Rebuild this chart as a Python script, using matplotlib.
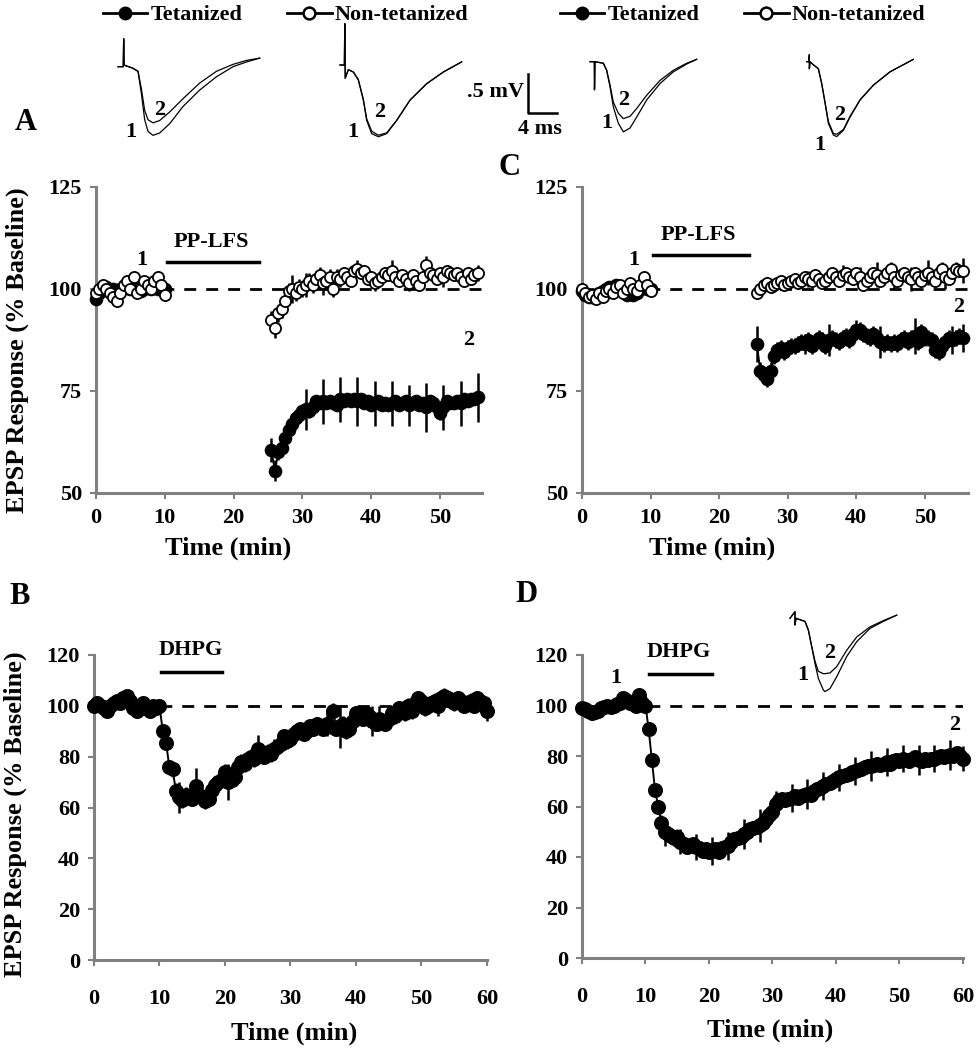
"""EPSP time courses after PP-LFS and DHPG, with example traces."""

import matplotlib

matplotlib.use("Agg")
import matplotlib.pyplot as plt
import numpy as np
from matplotlib.lines import Line2D

plt.rcParams["font.family"] = ["Liberation Serif", "DejaVu Serif"]
plt.rcParams["font.weight"] = "bold"
plt.rcParams["font.size"] = 16

W, H = 979, 1050
GRAY = "#808080"

# time bases (min)
t_base = np.arange(0, 10.01, 0.5)
t_post = np.arange(25.5, 55.51, 0.5)
t_full = np.arange(0, 60.01, 0.5)

# ---------------- panel A (% baseline)
a_tet_base = [97.5, 99, 100, 100.5, 99.5, 100, 99, 100, 100.5, 101, 100,
              101, 100, 99.5, 100, 100.5, 100, 101, 100, 100.5, 100]
a_tet_base_err = [1.5, 1.0, 1.0, 1.2, 1.0, 1.0, 1.2, 1.0, 1.0, 1.2, 1.0,
                  1.0, 1.2, 1.0, 1.0, 1.2, 1.0, 1.0, 1.2, 1.0, 1.0]
a_non_base = [99, 100, 101, 100, 99, 98, 97, 99, 101, 102, 100,
              103, 99, 100, 102, 101, 100, 102, 103, 101, 98.5]
a_non_base_err = [1.5, 1.5, 1.2, 1.5, 1.5, 1.2, 1.5, 1.5, 1.2, 1.5, 1.5,
                  1.2, 1.5, 1.5, 1.2, 1.5, 1.5, 1.2, 1.5, 1.5, 1.5]
a_tet_post = [60.5, 55.5, 60, 61, 63.5, 65.5, 67, 68.5, 69, 70,
              70.5, 70, 71, 72.5, 72, 72.5, 72, 72.5, 72, 71.5,
              73, 72.5, 73, 72.5, 73, 72.5, 73, 72, 72.5, 71.5,
              72, 72.5, 71.5, 72, 71.5, 72, 72.5, 71.5, 72, 72.5,
              71.5, 72, 72.5, 71.5, 72, 71, 72.5, 72, 71, 69.5,
              71, 72.5, 72, 72, 72.5, 72, 73, 72.5, 73, 73,
              73.5]
a_tet_post_err = [3.0, 2.5, 2.0, 2.0, 1.5, 1.5, 1.5, 1.5, 1.5, 1.5,
                  5.0, 1.5, 1.5, 1.5, 1.5, 5.5, 1.5, 1.5, 1.5, 1.5,
                  5.5, 1.5, 1.5, 1.5, 1.5, 6.0, 1.5, 1.5, 1.5, 1.5,
                  5.5, 1.5, 1.5, 1.5, 1.5, 5.5, 1.5, 1.5, 1.5, 1.5,
                  5.0, 1.5, 1.5, 1.5, 1.5, 6.0, 1.5, 1.5, 1.5, 1.5,
                  5.5, 1.5, 1.5, 1.5, 1.5, 5.5, 1.5, 1.5, 1.5, 1.5,
                  6.0]
a_non_post = [92.5, 90.5, 94, 95, 97, 99.5, 100, 99, 100.5, 100,
              101, 102, 101, 102.5, 103.5, 101.5, 102, 103, 100, 103,
              102.5, 104, 103, 102, 104.5, 105, 104, 104.5, 102.5, 103,
              101.5, 102, 103, 104, 103.5, 104.5, 103, 102, 103.5, 102.5,
              101.5, 103.5, 102, 101, 103, 106, 104, 103.5, 102.5, 104,
              103, 104.5, 104, 103.5, 104, 103, 102, 104, 102.5, 103.5,
              104]
a_non_post_err = [2.0, 2.5, 2.0, 2.0, 2.0, 2.0, 3.5, 2.0, 2.0, 2.0,
                  3.0, 2.0, 2.0, 2.0, 2.0, 3.0, 2.0, 2.0, 2.0, 2.0,
                  2.0, 1.5, 1.5, 1.5, 1.5, 2.0, 1.5, 1.5, 1.5, 1.5,
                  2.0, 1.5, 1.5, 1.5, 1.5, 2.5, 1.5, 1.5, 1.5, 1.5,
                  2.0, 1.5, 1.5, 1.5, 1.5, 2.0, 1.5, 1.5, 1.5, 1.5,
                  2.5, 1.5, 1.5, 1.5, 1.5, 2.0, 1.5, 1.5, 1.5, 1.5,
                  2.0]

# ---------------- panel C (% baseline)
c_tet_base = [99.5, 98.5, 98, 98, 98.5, 99, 99.5, 100, 100.5, 100, 101,
              100, 99.5, 98.5, 99, 98.5, 99, 100, 100.5, 100, 100]
c_tet_base_err = [1.0, 1.0, 1.2, 1.0, 1.0, 1.2, 1.0, 1.0, 1.2, 1.0, 1.0,
                  1.2, 1.0, 1.0, 1.2, 1.0, 1.0, 1.2, 1.0, 1.0, 1.0]
c_non_base = [100, 99, 98, 98.5, 97.5, 99, 98, 99.5, 100, 99, 100.5,
              101, 99, 100, 101.5, 100, 99.5, 101, 103, 101, 99.5]
c_non_base_err = [1.2, 1.2, 1.0, 1.2, 1.2, 1.0, 1.2, 1.2, 1.0, 1.2, 1.2,
                  1.0, 1.2, 1.2, 1.0, 1.2, 1.2, 1.0, 1.2, 1.2, 1.2]
c_tet_post = [86.5, 80, 79, 78, 80, 83.5, 85, 85.5, 84.5, 85.5,
              86, 86, 86.5, 87, 86.5, 87.5, 86, 87, 88, 87.5,
              86, 87.5, 88, 87.5, 87, 88, 88.5, 87.5, 89, 90,
              90, 89, 88.5, 88, 89, 88, 87, 86.5, 87, 86.5,
              87, 86.5, 87.5, 88, 87, 88, 88.5, 87, 89.5, 88,
              88, 87.5, 85, 84.5, 86, 87, 88, 87.5, 88, 88.5,
              88]
c_tet_post_err = [4.5, 2.0, 2.0, 2.0, 2.0, 2.0, 2.0, 2.0, 2.0, 2.0,
                  2.0, 2.0, 2.0, 2.0, 2.5, 2.0, 2.0, 2.0, 2.0, 2.0,
                  2.0, 4.0, 2.0, 2.0, 2.0, 2.0, 2.0, 2.0, 2.0, 2.5,
                  2.0, 2.0, 2.0, 2.0, 2.0, 2.0, 4.0, 2.0, 2.0, 2.0,
                  2.0, 2.0, 2.0, 2.0, 2.0, 2.0, 4.5, 2.0, 2.0, 2.0,
                  2.0, 2.0, 2.0, 2.0, 2.0, 2.0, 2.0, 3.5, 2.0, 2.0,
                  3.5]
c_non_post = [99, 100, 101, 101.5, 100.5, 101, 101.5, 102, 101, 101.5,
              102, 102.5, 101.5, 102, 103, 102.5, 102, 103.5, 102.5, 101.5,
              102, 103, 104, 103, 102, 103.5, 104, 103, 102.5, 104,
              103, 101, 102, 103, 104, 103.5, 102, 103, 104, 105,
              103, 102, 103.5, 104, 103, 102.5, 104, 103, 102, 103.5,
              104, 103, 102, 104, 105, 103, 102.5, 104, 105, 104.5,
              104.5]
c_non_post_err = [1.5, 1.5, 1.5, 1.5, 1.5, 1.5, 1.5, 1.5, 1.5, 1.5,
                  1.5, 1.5, 1.5, 1.5, 1.5, 2.0, 1.5, 1.5, 1.5, 1.5,
                  2.0, 1.5, 1.5, 1.5, 1.5, 2.5, 1.5, 1.5, 1.5, 1.5,
                  2.5, 1.5, 1.5, 1.5, 1.5, 3.0, 1.5, 1.5, 1.5, 1.5,
                  3.0, 1.5, 1.5, 1.5, 1.5, 3.0, 1.5, 1.5, 1.5, 1.5,
                  3.0, 1.5, 1.5, 1.5, 1.5, 3.0, 1.5, 1.5, 1.5, 1.5,
                  3.0]

# ---------------- panel B (% baseline)
b_vals = [100, 101, 100, 99, 98, 100, 101, 102, 101, 103, 104,
          102, 99, 98, 100, 101, 99, 98, 100, 99, 100,
          90, 85.5, 76, 75, 66.5, 64, 63, 65, 64, 63.5,
          68.5, 65, 64, 62.5, 63.5, 67, 69, 70, 71, 74,
          70, 71, 72, 76, 78, 77, 79, 80, 79, 83,
          81, 80, 82, 81, 83, 84, 85, 88, 86, 87,
          89, 90, 91, 89, 90, 92, 91, 93, 92, 91,
          93, 92, 98, 91, 92, 93, 90, 91, 94, 97,
          96, 95, 97, 96, 94, 93, 95, 94, 93, 95,
          97, 96, 99, 98, 97, 100, 98, 101, 103, 102,
          99, 100, 101, 102, 100, 103, 104, 103, 102, 101,
          103, 102, 100, 101, 102, 100, 103, 102, 101, 98]
b_err = [2, 2, 2, 2, 2, 2, 2, 2, 2, 2, 2,
         2, 2, 2, 2, 2, 2, 2, 2, 2, 2,
         2, 2, 2, 3, 3, 6, 3, 3, 3, 3,
         7, 3, 3, 3, 3, 3, 3, 3, 3, 3,
         7, 3, 3, 3, 3, 3, 3, 3, 3, 5.5,
         3, 3, 3, 3, 4, 3, 3, 3, 3, 3,
         2.5, 2.5, 2.5, 2.5, 2.5, 2.5, 2.5, 2.5, 2.5, 2.5,
         5, 3, 3, 3, 8.5, 3, 3, 3, 3, 3,
         3, 3, 3, 3, 6, 3, 5, 3, 3, 3,
         3, 3, 3, 3, 3, 3, 3, 3, 3, 3,
         3, 3, 3, 3, 4, 3, 3, 3, 3, 3,
         3, 3, 3, 3, 3, 3, 3, 3, 3, 4]

# ---------------- panel D (% baseline)
d_vals = [99, 98.5, 98, 97, 97.5, 98, 99, 99.5, 100, 99.5, 100,
          100.5, 101, 103, 102, 101, 100.5, 100, 104, 101, 100,
          90.5, 78.5, 66.5, 60, 53.5, 50, 49, 48.5, 47.5, 48,
          46, 45, 44, 44.5, 45, 44, 43.5, 42.5, 43, 42,
          42.5, 43, 42, 43.5, 44, 44.5, 46, 47, 47.5, 48,
          49, 50, 51, 51.5, 52, 52.5, 53.5, 55, 56.5, 58,
          61, 62.5, 63, 62.5, 63, 63.5, 64, 63.5, 64, 64.5,
          65, 64.5, 66, 67, 67.5, 68, 69, 69.5, 70, 71,
          71.5, 72, 72.5, 73, 73.5, 74, 74.5, 75, 75.5, 76,
          76, 76.5, 77, 76.5, 77, 77.5, 77, 78, 78.5, 78,
          79, 78.5, 78, 79, 79.5, 78.5, 78, 79, 78.5, 79,
          79, 79.5, 80, 79.5, 80, 80.5, 80, 81, 80, 79]
d_err = [1.5, 1.5, 1.5, 1.5, 1.5, 1.5, 1.5, 1.5, 1.5, 1.5, 1.5,
         1.5, 1.5, 1.5, 1.5, 1.5, 1.5, 1.5, 1.5, 1.5, 1.5,
         2, 2, 2, 2, 3, 5.5, 3, 3, 3, 3,
         5, 2.5, 2.5, 2.5, 2.5, 5, 2.5, 2.5, 2.5, 2.5,
         5.5, 2.5, 2.5, 2.5, 2.5, 5.5, 2.5, 2.5, 2.5, 2.5,
         6, 2.5, 2.5, 2.5, 2.5, 6.5, 2.5, 2.5, 2.5, 2.5,
         5, 2.5, 2.5, 2.5, 2.5, 5.5, 2.5, 2.5, 2.5, 2.5,
         6, 2.5, 2.5, 2.5, 2.5, 5.5, 2.5, 2.5, 2.5, 2.5,
         5.5, 2.5, 2.5, 2.5, 2.5, 5.5, 2.5, 2.5, 2.5, 2.5,
         6, 2.5, 2.5, 2.5, 2.5, 5.5, 2.5, 2.5, 2.5, 2.5,
         5.5, 2.5, 2.5, 2.5, 2.5, 6, 2.5, 2.5, 2.5, 2.5,
         5.5, 2.5, 2.5, 2.5, 2.5, 6, 2.5, 2.5, 2.5, 5]

# ---------------- example EPSP traces (ms, mV from baseline)
tr_a_t = [0, 0.72, 0.78, 0.85, 2.07, 2.76, 3.22, 3.68, 4.14, 4.83, 5.75,
          7.13, 8.97, 11.26, 13.56, 15.86, 17.70, 19.54]
tr_a_1 = [0, 0, 0.36, 0.02, -0.02, -0.06, -0.34, -0.68, -0.83, -0.88, -0.85,
          -0.73, -0.51, -0.30, -0.13, 0.0, 0.06, 0.11]
tr_a_2 = [0, 0, 0.36, 0.02, -0.02, -0.06, -0.28, -0.56, -0.68, -0.72, -0.69,
          -0.58, -0.41, -0.21, -0.06, 0.03, 0.08, 0.11]
tr_b_t = [0, 0.6, 0.66, 0.72, 1.15, 1.84, 2.53, 3.22, 3.68, 4.37, 5.29,
          6.44, 7.82, 9.66, 11.95, 14.25, 16.78]
tr_b_1 = [0, 0, 0.53, -0.17, -0.06, -0.09, -0.19, -0.45, -0.71, -0.88, -0.92,
          -0.88, -0.71, -0.45, -0.24, -0.09, 0.04]
tr_b_2 = [0, 0, 0.53, -0.17, -0.06, -0.09, -0.19, -0.44, -0.69, -0.85, -0.90,
          -0.87, -0.71, -0.45, -0.24, -0.09, 0.04]
tr_c_t = [0, 0.6, 0.62, 0.69, 1.84, 2.30, 2.76, 3.22, 3.91, 4.60, 5.52,
          6.44, 7.82, 9.66, 11.49, 13.33, 14.71]
tr_c_1 = [0, 0, -0.36, 0, -0.02, -0.11, -0.32, -0.58, -0.79, -0.90, -0.85,
          -0.71, -0.49, -0.28, -0.13, -0.03, 0.03]
tr_c_2 = [0, 0, -0.36, 0, -0.02, -0.11, -0.30, -0.52, -0.66, -0.73, -0.70,
          -0.60, -0.43, -0.24, -0.11, -0.02, 0.03]
tr_d_t = [0, 0.28, 0.37, 0.37, 0.46, 0.92, 1.61, 2.07, 2.53, 2.99, 3.68,
          4.14, 5.06, 5.98, 7.36, 9.20, 11.49, 14.71]
tr_d_1 = [0, 0, 0.09, -0.09, 0, -0.04, -0.09, -0.28, -0.53, -0.79, -0.94,
          -0.96, -0.88, -0.71, -0.49, -0.30, -0.13, 0.03]
tr_d_2 = [0, 0, 0.09, -0.09, 0, -0.04, -0.09, -0.28, -0.52, -0.77, -0.92,
          -0.93, -0.87, -0.70, -0.49, -0.30, -0.13, 0.03]
tr_e_t = [0, 0.69, 0.69, 0.83, 2.07, 2.53, 2.99, 3.45, 3.91, 4.60, 4.83,
          5.52, 6.44, 7.82, 9.20, 11.03, 12.87, 14.71]
tr_e_1 = [0, 0.085, -0.085, 0, -0.04, -0.15, -0.36, -0.58, -0.77, -0.92, -0.94,
          -0.90, -0.75, -0.49, -0.30, -0.13, -0.04, 0.04]
tr_e_2 = [0, 0.085, -0.085, 0, -0.04, -0.15, -0.36, -0.55, -0.68, -0.71, -0.71,
          -0.70, -0.62, -0.41, -0.24, -0.11, -0.03, 0.04]

PX_MS, PX_MV = 7.25, 78.0


def px_axes(fig, left, top, right, bottom):
    return fig.add_axes([left / W, 1 - bottom / H, (right - left) / W, (bottom - top) / H])


def style_axes(ax, xpad):
    for side in ("top", "right"):
        ax.spines[side].set_visible(False)
    for side in ("left", "bottom"):
        ax.spines[side].set_color(GRAY)
        ax.spines[side].set_linewidth(2.2)
    ax.tick_params(direction="out", color=GRAY, width=1.5, length=4, labelcolor="k", labelsize=16)
    ax.tick_params(axis="y", pad=6)
    ax.tick_params(axis="x", pad=xpad)
    ax.axhline(100, color="k", lw=2, linestyle=(0, (4.3, 3.6)), zorder=1)


def series(ax, t, v, err, filled, ms):
    cont = ax.errorbar(t, v, yerr=err, fmt="-o", color="k", lw=1.4, ms=ms,
                       mfc="k" if filled else "w", mec="k", mew=1.3,
                       ecolor="k", elinewidth=1.8, capsize=0, zorder=3 if filled else 4)
    for art in cont.get_children():
        art.set_clip_on(False)


def trace_axes(fig, x0, y0, ms_lo, ms_hi, mv_lo, mv_hi):
    ax = px_axes(fig, x0 + ms_lo * PX_MS, y0 - mv_hi * PX_MV, x0 + ms_hi * PX_MS, y0 - mv_lo * PX_MV)
    ax.set_xlim(ms_lo, ms_hi)
    ax.set_ylim(mv_lo, mv_hi)
    ax.axis("off")
    return ax


def draw_trace(fig, x0, y0, t, v1, v2, lab1, lab2):
    ax = trace_axes(fig, x0, y0, -0.5, 21, -1.2, 0.7)
    ax.plot(t, v1, color="k", lw=0.9)
    ax.plot(t, v2, color="k", lw=0.9)
    ax.text(*lab1, "1", ha="center", va="center", fontsize=16)
    ax.text(*lab2, "2", ha="center", va="center", fontsize=16)
    return ax


fig = plt.figure(figsize=(W / 100, H / 100), dpi=100)

# ---- panel A
ax_a = px_axes(fig, 96, 187, 482, 493)
style_axes(ax_a, 7)
ax_a.set_xlim(0, 56.1)
ax_a.set_ylim(50, 125)
ax_a.set_yticks([50, 75, 100, 125])
ax_a.set_xticks([0, 10, 20, 30, 40, 50])
series(ax_a, t_base, a_tet_base, a_tet_base_err, True, 8.5)
series(ax_a, t_post, a_tet_post, a_tet_post_err, True, 8.5)
series(ax_a, t_base, a_non_base, a_non_base_err, False, 8)
series(ax_a, t_post, a_non_post, a_non_post_err, False, 8)
ax_a.plot([10.3, 23.7], [106.6, 106.6], color="k", lw=2.5, clip_on=False)
ax_a.text(16.8, 111.5, "PP-LFS", ha="center", va="center", fontsize=16)
ax_a.text(6.7, 107.1, "1", ha="center", va="center", fontsize=16)
ax_a.text(54.1, 87.5, "2", ha="center", va="center", fontsize=16)
ax_a.set_xlabel("Time (min)", fontsize=19, fontweight="bold", va="center")
ax_a.xaxis.set_label_coords(0.342, -0.18)
ax_a.set_ylabel("EPSP Response (% Baseline)", fontsize=19, fontweight="bold", va="center")
ax_a.yaxis.set_label_coords(-0.205, 0.467)

# ---- panel C
ax_c = px_axes(fig, 582, 187, 968, 493)
style_axes(ax_c, 7)
ax_c.set_xlim(0, 56.3)
ax_c.set_ylim(50, 125)
ax_c.set_yticks([50, 75, 100, 125])
ax_c.set_xticks([0, 10, 20, 30, 40, 50])
series(ax_c, t_base, c_tet_base, c_tet_base_err, True, 8.5)
series(ax_c, t_post, c_tet_post, c_tet_post_err, True, 8.5)
series(ax_c, t_base, c_non_base, c_non_base_err, False, 8)
series(ax_c, t_post, c_non_post, c_non_post_err, False, 8)
ax_c.plot([10.3, 24.4], [108.3, 108.3], color="k", lw=2.5, clip_on=False)
ax_c.text(17.0, 113.2, "PP-LFS", ha="center", va="center", fontsize=16)
ax_c.text(7.5, 107.1, "1", ha="center", va="center", fontsize=16)
ax_c.text(54.9, 95.7, "2", ha="center", va="center", fontsize=16)
ax_c.set_xlabel("Time (min)", fontsize=19, fontweight="bold", va="center")
ax_c.xaxis.set_label_coords(0.337, -0.18)

# ---- panel B
ax_b = px_axes(fig, 94, 655, 487, 960)
style_axes(ax_b, 17)
ax_b.set_xlim(0, 60)
ax_b.set_ylim(0, 120)
ax_b.set_yticks(range(0, 121, 20))
ax_b.set_xticks(range(0, 61, 10))
series(ax_b, t_full, b_vals, b_err, True, 9.5)
ax_b.plot([10.2, 19.6], [113.4, 113.4], color="k", lw=2.5, clip_on=False)
ax_b.text(14.7, 122, "DHPG", ha="center", va="center", fontsize=16)
ax_b.set_xlabel("Time (min)", fontsize=19, fontweight="bold", va="center")
ax_b.xaxis.set_label_coords(0.509, -0.239)
ax_b.set_ylabel("EPSP Response (% Baseline)", fontsize=19, fontweight="bold", va="center")
ax_b.yaxis.set_label_coords(-0.201, 0.479)

# ---- panel D
ax_d = px_axes(fig, 582, 655, 963, 958)
style_axes(ax_d, 17)
ax_d.set_xlim(0, 60)
ax_d.set_ylim(0, 120)
ax_d.set_yticks(range(0, 121, 20))
ax_d.set_xticks(range(0, 61, 10))
series(ax_d, t_full, d_vals, d_err, True, 9.5)
ax_d.plot([10.6, 20.4], [112.5, 112.5], color="k", lw=2.5, clip_on=False)
ax_d.text(15.2, 121.3, "DHPG", ha="center", va="center", fontsize=16)
ax_d.text(5.4, 110.8, "1", ha="center", va="center", fontsize=16)
ax_d.text(58.7, 92.3, "2", ha="center", va="center", fontsize=16)
ax_d.set_xlabel("Time (min)", fontsize=19, fontweight="bold", va="center")
ax_d.xaxis.set_label_coords(0.493, -0.238)

# ---- example traces
draw_trace(fig, 118, 66.7, tr_a_t, tr_a_1, tr_a_2, (1.8, -0.84), (5.8, -0.56))
draw_trace(fig, 340, 65, tr_b_t, tr_b_1, tr_b_2, (1.8, -0.86), (5.5, -0.60))
draw_trace(fig, 590, 61.7, tr_c_t, tr_c_1, tr_c_2, (2.3, -0.79), (4.6, -0.49))
draw_trace(fig, 806.7, 61.7, tr_d_t, tr_d_1, tr_d_2, (1.8, -1.07), (4.6, -0.68))
draw_trace(fig, 790, 618.3, tr_e_t, tr_e_1, tr_e_2, (1.8, -0.73), (5.5, -0.44))

# scale bar: 0.5 mV, 4 ms
ax_s = trace_axes(fig, 528, 113, -6, 6, -0.4, 0.7)
ax_s.plot([0, 0, 4], [0.5, 0, 0], color="k", lw=1.8)
ax_s.text(-0.6, 0.27, ".5 mV", ha="right", va="center", fontsize=16)
ax_s.text(1.65, -0.2, "4 ms", ha="center", va="center", fontsize=16)

# ---- legends
handles = [
    Line2D([], [], color="k", lw=2, marker="o", ms=8.5, mfc="k", mec="k", mew=1.5),
    Line2D([], [], color="k", lw=2, marker="o", ms=8.5, mfc="w", mec="k", mew=1.8),
]
labels = ["Tetanized", "Non-tetanized"]
for x_left in (103, 560):
    fig.legend(handles, labels, loc="center left", bbox_to_anchor=(x_left / W, 1 - 15 / H),
               ncol=2, frameon=False, handlelength=2.0, handletextpad=0.15,
               columnspacing=2.0, borderpad=0, borderaxespad=0,
               prop={"size": 16, "weight": "bold"})

# ---- panel letters
for letter, (x, y) in {"A": (26, 122), "C": (510, 167), "B": (20, 596), "D": (526, 595)}.items():
    fig.text(x / W, 1 - y / H, letter, ha="center", va="center", fontsize=22, fontweight="bold")

fig.savefig("out.png", dpi=100)
